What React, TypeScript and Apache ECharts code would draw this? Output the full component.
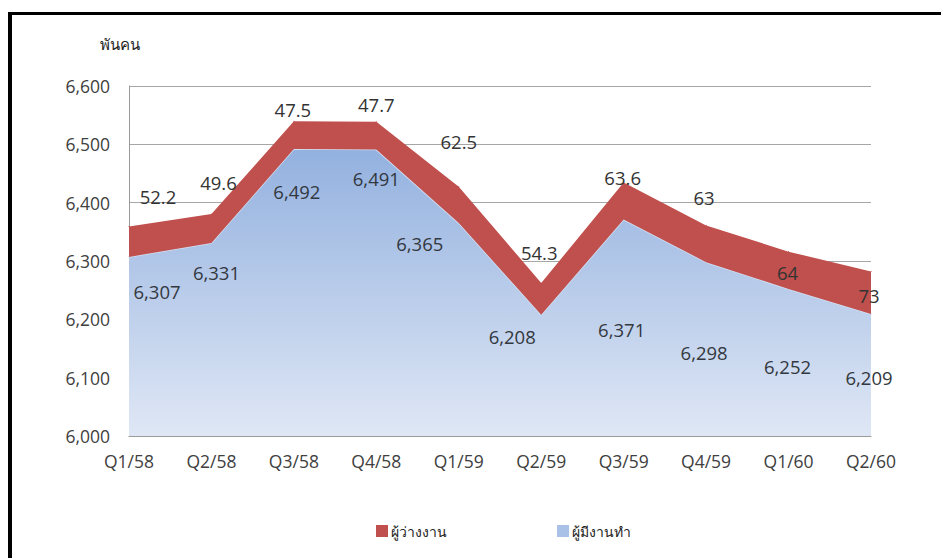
import React, { useEffect, useRef } from "react";
import * as echarts from "echarts";

const categories = ["Q1/58", "Q2/58", "Q3/58", "Q4/58", "Q1/59", "Q2/59", "Q3/59", "Q4/59", "Q1/60", "Q2/60"];
const employed = [6307, 6331, 6492, 6491, 6365, 6208, 6371, 6298, 6252, 6209];
const unemployed = [52.2, 49.6, 47.5, 47.7, 62.5, 54.3, 63.6, 63, 64, 73];
const yTicks = { min: 6000, max: 6600, interval: 100 };
const employedName = "ผู้มีงานทำ";
const unemployedName = "ผู้ว่างงาน";
const unitLabel = "พันคน";

// label placement (style only)
const employedLabelOffsets = [[28, 35], [5, 30], [3, 42], [0, 29], [-39, 20], [-29, 22], [-2, 110], [-2, 90], [-1, 77], [-2, 63]];
const unemployedLabelOffsets = [[29, -30], [7, -31], [-1, -12], [0, -17], [0, -45], [-2, -30], [-1, -5], [-2, -28], [-1, 21], [-2, 24]];

const FONT = "'Open Sans', 'Noto Sans', sans-serif";

export default function App() {
  const ref = useRef<HTMLDivElement>(null);
  useEffect(() => {
    const chart = echarts.init(ref.current!, null, { renderer: "svg" });
    const fmt = (v: number) => v.toLocaleString("en-US");
    chart.setOption({
      animation: false,
      backgroundColor: "#ffffff",
      grid: { left: 129, right: 70, top: 86, bottom: 122 },
      legend: [
        {
          data: [unemployedName],
          left: 371,
          top: 519,
          icon: "rect",
          itemWidth: 12,
          itemHeight: 12,
          textStyle: { fontFamily: FONT, fontSize: 14, color: "#222", padding: [0, 0, 0, -2] },
        },
        {
          data: [employedName],
          left: 552,
          top: 519,
          icon: "rect",
          itemWidth: 12,
          itemHeight: 12,
          textStyle: { fontFamily: FONT, fontSize: 14, color: "#222", padding: [0, 0, 0, -2] },
        },
      ],
      xAxis: {
        type: "category",
        data: categories,
        boundaryGap: false,
        axisLine: { show: true, lineStyle: { color: "#9a9a9a", width: 1 } },
        axisTick: { show: false },
        axisLabel: { fontFamily: FONT, fontSize: 17.5, color: "#404040", margin: 16 },
        splitLine: { show: false },
      },
      yAxis: {
        type: "value",
        min: yTicks.min,
        max: yTicks.max,
        interval: yTicks.interval,
        axisLine: { show: true, lineStyle: { color: "#9a9a9a", width: 1 } },
        axisTick: { show: false },
        axisLabel: { fontFamily: FONT, fontSize: 17.5, color: "#404040", margin: 19, formatter: fmt },
        splitLine: { show: true, lineStyle: { color: "#a6a6a6", width: 1 } },
      },
      graphic: [
        { type: "line", shape: { x1: 10, y1: 13.5, x2: 960, y2: 13.5 }, style: { stroke: "#000", lineWidth: 3 } },
        { type: "line", shape: { x1: 10, y1: 12, x2: 10, y2: 570 }, style: { stroke: "#000", lineWidth: 4 } },
        {
          type: "text",
          left: 100,
          top: 36,
          style: { text: unitLabel, fontFamily: FONT, fontSize: 15, fill: "#222" },
        },
      ],
      series: [
        {
          name: employedName,
          type: "line",
          stack: "total",
          symbol: "circle",
          symbolSize: 1,
          showSymbol: true,
          itemStyle: { color: "#a9c1e6" },
          lineStyle: { width: 1.5, color: "#d2e0f4" },
          areaStyle: {
            opacity: 1,
            color: new echarts.graphic.LinearGradient(0, 0, 0, 1, [
              { offset: 0, color: "#93b1df" },
              { offset: 1, color: "#dfe7f5" },
            ]),
          },
          data: employed.map((v, i) => ({
            value: v,
            label: { offset: employedLabelOffsets[i] },
          })),
          label: {
            show: true,
            position: "inside",
            formatter: (p: any) => fmt(p.value),
            fontFamily: FONT,
            fontSize: 18.5,
            color: "#333840",
          },
          z: 2,
        },
        {
          name: unemployedName,
          type: "line",
          stack: "total",
          symbol: "circle",
          symbolSize: 1,
          showSymbol: true,
          itemStyle: { color: "#c0504d" },
          lineStyle: { width: 0, color: "#c0504d" },
          areaStyle: { opacity: 1, color: "#c0504d" },
          data: unemployed.map((v, i) => ({
            value: v,
            label: { offset: unemployedLabelOffsets[i] },
          })),
          label: {
            show: true,
            position: "inside",
            formatter: (p: any) => String(p.value),
            fontFamily: FONT,
            fontSize: 18.5,
            color: "#333333",
          },
          z: 3,
        },
      ],
    });
    return () => chart.dispose();
  }, []);
  return (
    <div
      ref={ref}
      style={{ position: "fixed", left: 0, top: 0, width: 941, height: 558 }}
    />
  );
}
